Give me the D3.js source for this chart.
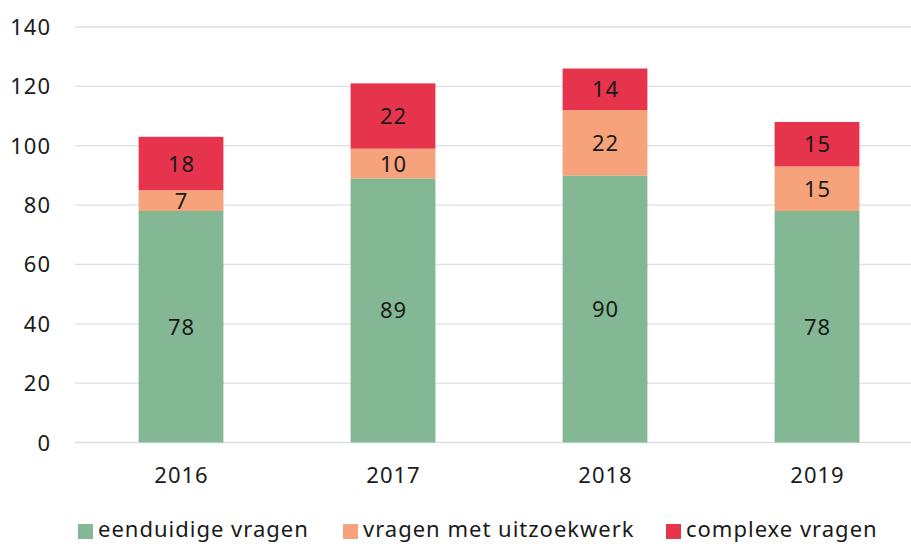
<!DOCTYPE html>
<html><head><meta charset="utf-8">
<script src="https://cdn.jsdelivr.net/npm/d3@7"></script>
<style>body{margin:0;background:#fff}svg text{font-family:"Noto Sans",sans-serif;fill:#1a1a1a;letter-spacing:1px}</style>
</head><body><svg id="c" width="911" height="544"></svg>
<script>
const years = ["2016","2017","2018","2019"];
const seriesNames = ["eenduidige vragen","vragen met uitzoekwerk","complexe vragen"];
const eenduidig = [78,89,90,78];
const uitzoekwerk = [7,10,22,15];
const complex = [18,22,14,15];
const colors = ["#84b793","#f6a27b","#e5344b"];
const yTicks = [0,20,40,60,80,100,120,140];

const svg = d3.select("#c");
const x = d3.scaleBand().domain(years).range([75,923]).paddingInner(0.6).paddingOuter(0.3);
const y = d3.scaleLinear().domain([0,140]).range([442.5,27]);
const fs = 22;

svg.append("g").selectAll("line").data(yTicks).join("line")
  .attr("x1",75).attr("x2",911).attr("y1",d=>y(d)).attr("y2",d=>y(d))
  .attr("stroke","#dcdfe3").attr("stroke-width",1.3);
svg.append("g").selectAll("text").data(yTicks).join("text")
  .attr("x",51).attr("y",d=>y(d)+8).attr("text-anchor","end").attr("font-size",fs).text(d=>d);

const table = years.map((yr,i)=>({year:yr,[seriesNames[0]]:eenduidig[i],[seriesNames[1]]:uitzoekwerk[i],[seriesNames[2]]:complex[i]}));
const stack = d3.stack().keys(seriesNames)(table);
stack.forEach((s,si)=>{
  const g = svg.append("g");
  g.selectAll("rect").data(s).join("rect")
    .attr("x",d=>x(d.data.year)).attr("width",x.bandwidth())
    .attr("y",d=>y(d[1])).attr("height",d=>y(d[0])-y(d[1])).attr("fill",colors[si]);
  g.selectAll("text").data(s).join("text")
    .attr("x",d=>x(d.data.year)+x.bandwidth()/2+0.5).attr("y",d=>(y(d[0])+y(d[1]))/2+8)
    .attr("text-anchor","middle").attr("font-size",fs).text(d=>d[1]-d[0]);
});

svg.append("g").selectAll("text").data(years).join("text")
  .attr("x",d=>x(d)+x.bandwidth()/2+0.5).attr("y",483).attr("text-anchor","middle").attr("font-size",fs).text(d=>d);

const legX = [78,343,666];
const lg = svg.append("g");
seriesNames.forEach((n,i)=>{
  lg.append("rect").attr("x",legX[i]).attr("y",524).attr("width",15).attr("height",15).attr("fill",colors[i]);
  lg.append("text").attr("x",legX[i]+20).attr("y",537).attr("font-size",fs).text(n);
});
</script></body></html>
